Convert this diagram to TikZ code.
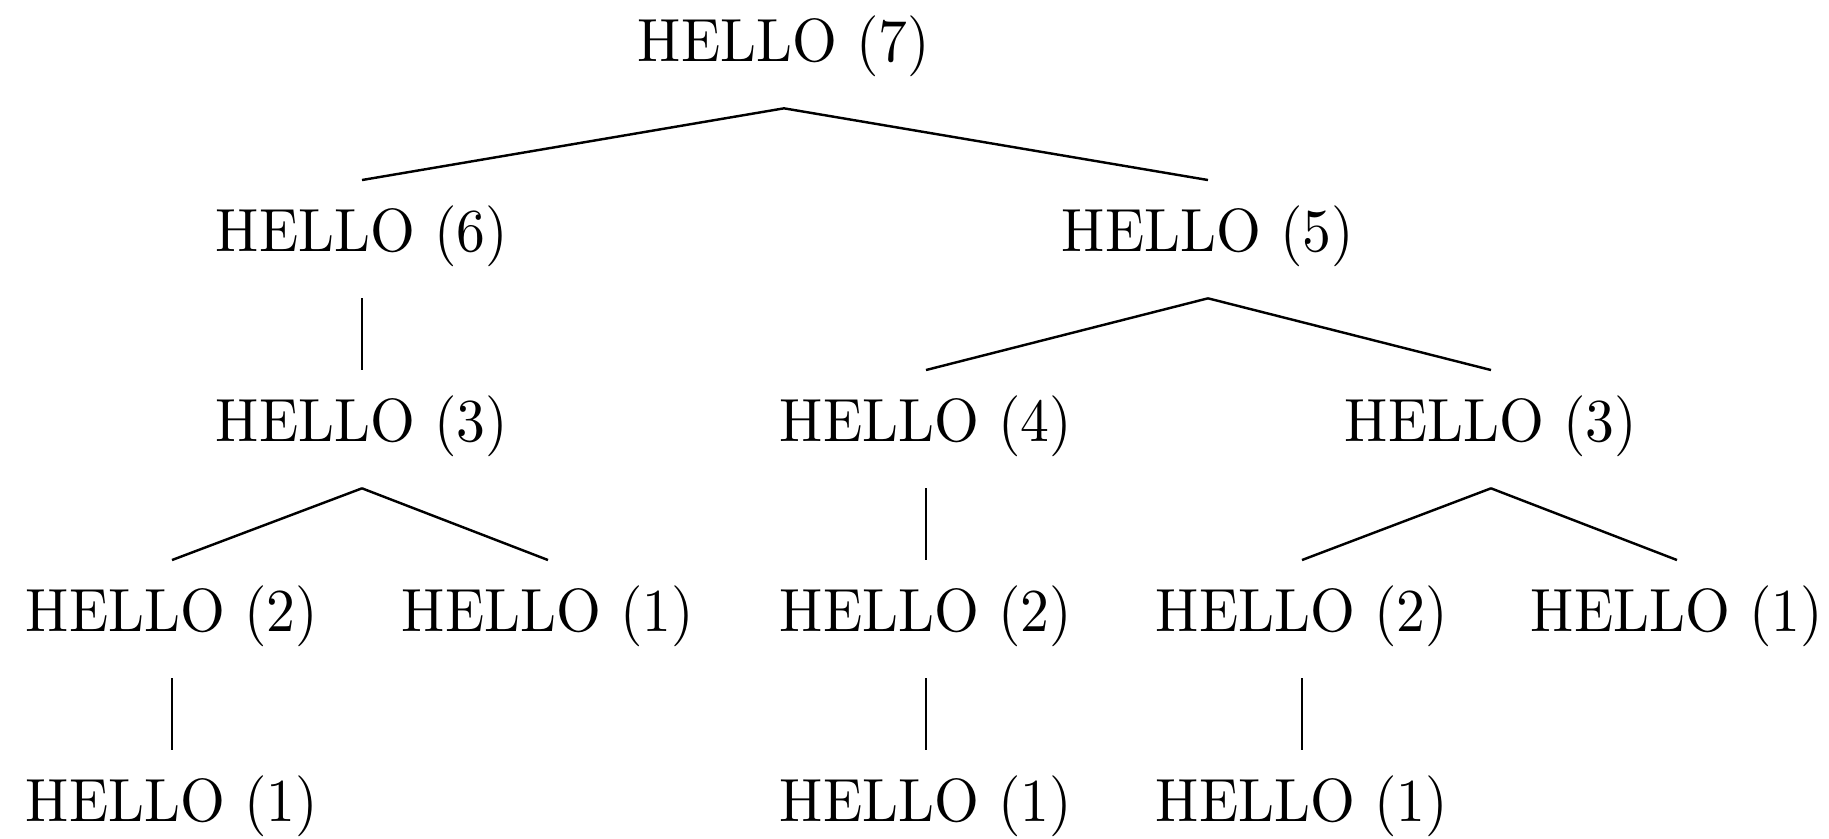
\documentclass[tikz,border=0pt]{standalone}
\usepackage{graphicx}
\newcommand{\hlabel}[1]{\scalebox{0.945}[1]{HELLO (#1)}}
\begin{document}
\begin{tikzpicture}[x=0.164pt,y=-0.164pt,
  tn/.style={anchor=base,inner xsep=0pt,inner ysep=0pt,text height=11.6pt,text depth=7.4pt,font=\fontsize{10}{12}\selectfont},
  edge/.style={draw=black,line width=0.4pt}]
\useasboundingbox (0,0) rectangle (1829,839);
\node[tn] (r) at (784,62) {\hlabel{7}};
\node[tn] (a) at (362,252) {\hlabel{6}};
\node[tn] (b) at (1208,252) {\hlabel{5}};
\node[tn] (a1) at (362,442) {\hlabel{3}};
\node[tn] (b1) at (926,442) {\hlabel{4}};
\node[tn] (b2) at (1491,442) {\hlabel{3}};
\node[tn] (a11) at (172,632) {\hlabel{2}};
\node[tn] (a12) at (548,632) {\hlabel{1}};
\node[tn] (b11) at (926,632) {\hlabel{2}};
\node[tn] (b21) at (1302,632) {\hlabel{2}};
\node[tn] (b22) at (1677,632) {\hlabel{1}};
\node[tn] (a111) at (172,822) {\hlabel{1}};
\node[tn] (b111) at (926,822) {\hlabel{1}};
\node[tn] (b211) at (1302,822) {\hlabel{1}};
\draw[edge] (r.south) -- (a.north);
\draw[edge] (r.south) -- (b.north);
\draw[edge] (a.south) -- (a1.north);
\draw[edge] (b.south) -- (b1.north);
\draw[edge] (b.south) -- (b2.north);
\draw[edge] (a1.south) -- (a11.north);
\draw[edge] (a1.south) -- (a12.north);
\draw[edge] (b1.south) -- (b11.north);
\draw[edge] (b2.south) -- (b21.north);
\draw[edge] (b2.south) -- (b22.north);
\draw[edge] (a11.south) -- (a111.north);
\draw[edge] (b11.south) -- (b111.north);
\draw[edge] (b21.south) -- (b211.north);
\end{tikzpicture}
\end{document}
